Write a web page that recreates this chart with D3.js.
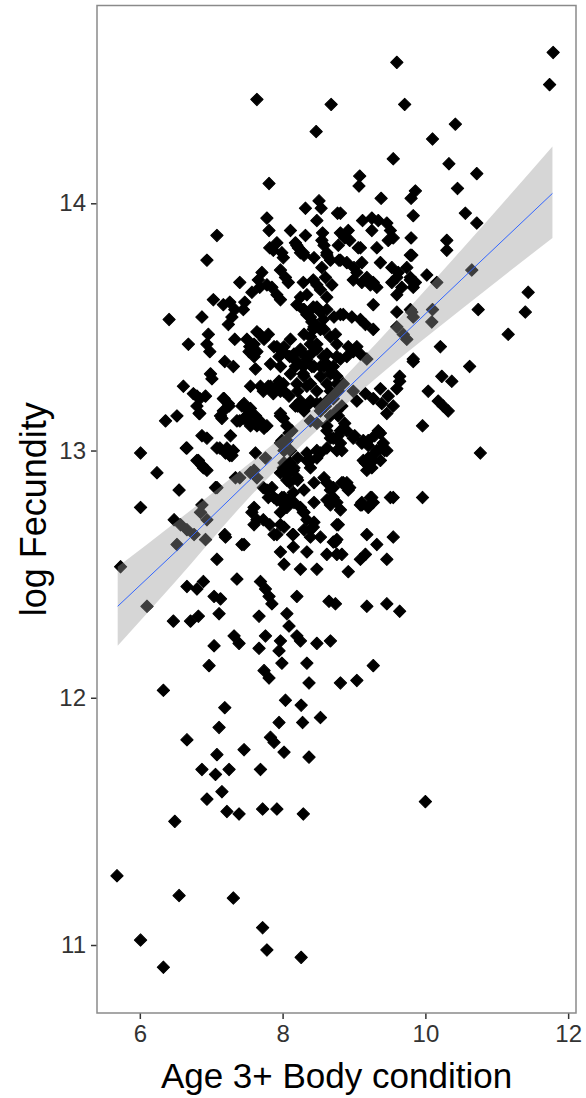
<!DOCTYPE html>
<html>
<head>
<meta charset="utf-8">
<script src="https://cdn.jsdelivr.net/npm/d3@7"></script>
<style>
  body { margin: 0; background: #fff; }
  svg { display: block; }
  text { font-family: "Liberation Sans", Arial, sans-serif; }
</style>
</head>
<body>
<svg id="chart" width="586" height="1098"></svg>
<script>
// body condition (x) vs log fecundity (y)
const fish = [
  [7.64,14.42],[8.68,14.40],[8.47,14.29],[11.79,14.61],[11.74,14.48],[9.60,14.57],[9.71,14.40],[10.42,14.32],
  [10.10,14.26],[9.55,14.18],[10.33,14.16],[10.72,14.12],[10.45,14.06],[10.56,13.96],[10.72,13.92],[9.08,14.11],
  [9.07,14.07],[9.38,14.02],[9.86,14.05],[9.80,14.02],[9.83,13.95],[9.80,13.86],[9.81,13.79],[10.30,13.85],
  [10.30,13.81],[8.81,13.96],[9.12,13.93],[9.25,13.94],[9.34,13.93],[9.46,13.92],[9.51,13.89],[9.55,13.86],
  [9.48,13.85],[8.92,13.89],[8.87,13.86],[8.94,13.85],[9.25,13.89],[9.09,13.82],[9.32,13.82],[8.78,13.83],
  [7.81,14.08],[7.08,13.87],[7.78,13.94],[7.81,13.89],[8.11,13.89],[8.32,13.98],[8.51,14.01],[8.54,13.98],
  [8.48,13.93],[8.77,13.96],[8.32,13.87],[8.56,13.88],[8.81,13.88],[7.92,13.84],[7.87,13.81],[7.99,13.80],
  [8.20,13.83],[8.25,13.80],[8.58,13.83],[8.62,13.80],[6.94,13.77],
  [7.82,13.82],[8.01,13.78],[8.18,13.84],[8.22,13.82],[8.29,13.80],[8.55,13.85],[8.67,13.77],[9.06,13.82],
  [8.81,13.77],[8.90,13.76],[9.00,13.74],[9.11,13.76],[9.04,13.72],[9.18,13.70],[9.27,13.68],[9.37,13.76],[9.79,13.79],
  [9.53,13.74],[9.62,13.72],[9.74,13.74],[9.79,13.70],[9.86,13.68],[9.60,13.70],
  [7.71,13.72],[7.66,13.69],[7.78,13.67],[7.85,13.66],[7.92,13.63],[7.97,13.61],
  [7.97,13.73],[8.04,13.70],[8.08,13.68],[8.55,13.74],[7.40,13.68],[7.57,13.64],[7.68,13.66],
  [8.29,13.68],[8.43,13.69],[8.60,13.70],[8.69,13.67],[8.34,13.63],[8.25,13.62],[8.53,13.65],[8.62,13.62],[8.48,13.67],
  [8.99,13.69],[9.11,13.68],[9.23,13.67],[9.32,13.66],
  [9.53,13.68],[9.67,13.66],[9.79,13.69],[9.83,13.66],[9.60,13.63],
  [7.03,13.61],[7.17,13.59],[7.26,13.60],[7.33,13.57],[7.29,13.54],[7.24,13.51],[7.47,13.60],[7.45,13.57],
  [6.87,13.54],
  [8.20,13.59],[8.29,13.57],[8.39,13.54],[8.46,13.51],[8.43,13.58],[8.53,13.56],[8.57,13.53],
  [8.85,13.55],[8.97,13.54],[9.09,13.53],[9.16,13.51],
  [9.27,13.59],[9.60,13.56],[9.27,13.49],
  [6.68,13.43],[6.96,13.47],[6.94,13.43],[6.98,13.40],
  [7.33,13.45],[7.50,13.45],[7.54,13.42],[7.64,13.40],[7.68,13.47],[7.80,13.47],
  [7.92,13.42],[8.01,13.40],[8.10,13.38],[8.20,13.36],[8.29,13.34],[8.34,13.38],[8.25,13.40],[8.43,13.40],
  [8.57,13.38],[8.62,13.35],[8.53,13.34],[8.71,13.34],[8.81,13.37],[8.90,13.38],[8.99,13.40],[9.09,13.39],
  [9.18,13.37],[8.39,13.46],[8.48,13.43],[8.53,13.49],[8.43,13.49],[8.34,13.55],[8.41,13.52],
  [9.60,13.50],[9.69,13.47],[9.74,13.45],[9.79,13.57],[9.83,13.54],[9.83,13.36],
  [7.19,13.36],[7.31,13.34],
  [6.41,13.53],[6.99,13.31],[7.01,13.29],[7.62,13.33],[6.61,13.26],[6.80,13.22],[6.92,13.22],[7.18,13.21],
  [7.25,13.18],[7.46,13.19],[7.53,13.16],
  [7.55,13.26],[7.69,13.26],[7.83,13.26],[7.95,13.28],[8.02,13.24],[8.09,13.22],
  [6.83,13.15],[6.36,13.12],[6.52,13.14],[7.13,13.14],[7.36,13.12],[7.46,13.13],[7.55,13.10],[7.64,13.10],
  [7.74,13.09],[7.97,13.14],
  [6.87,13.06],[7.27,13.06],[6.01,12.99],[6.65,13.01],[7.08,13.01],[7.20,12.99],[7.29,12.98],[7.62,12.99],
  [6.80,12.96],[6.87,12.94],[6.94,12.92],[6.24,12.91],[7.08,12.85],[6.55,12.84],[6.01,12.77],[6.87,12.78],
  [7.60,12.92],[7.64,12.89],[7.99,13.04],[8.09,13.07],[8.02,12.95],[8.11,12.92],[8.21,12.88],[8.02,13.00],
  [7.78,12.84],[7.88,12.81],[7.99,12.79],
  [8.30,13.79],[8.44,13.78],[8.62,13.79],[8.79,13.77],
  [8.30,13.57],[8.48,13.58],[8.62,13.57],[8.72,13.54],[8.81,13.55],[8.44,13.50],[8.58,13.49],[8.67,13.46],
  [8.76,13.43],[8.30,13.47],[8.39,13.43],[8.25,13.41],[8.48,13.41],[8.62,13.39],[8.76,13.38],[8.34,13.37],
  [8.44,13.34],[8.58,13.34],[8.67,13.31],[8.30,13.30],[8.39,13.27],[8.48,13.24],[8.21,13.24],[8.25,13.20],
  [8.34,13.18],[8.48,13.19],[8.67,13.24],[8.76,13.27],[8.62,13.20],
  [7.80,13.26],[7.92,13.26],[8.01,13.27],[7.97,13.24],[7.87,13.23],[7.73,13.24],
  [8.18,13.34],[8.29,13.31],[8.41,13.34],[8.53,13.30],[8.20,13.27],[8.34,13.26],[8.62,13.27],[8.39,13.20],
  [8.53,13.19],[8.18,13.18],[8.67,13.33],[8.76,13.30],
  [6.75,13.23],[6.84,13.21],[6.80,13.18],[7.17,13.21],[7.24,13.19],[7.17,13.16],
  [7.43,13.18],[7.55,13.17],[7.50,13.14],[7.62,13.14],[7.68,13.12],[7.78,13.10],[7.40,13.12],[7.55,13.11],
  [6.84,13.15],[7.15,13.13],[8.01,13.13],[8.06,13.10],[8.13,13.08],[7.97,13.15],
  [8.53,13.16],[8.60,13.18],[8.71,13.21],[8.78,13.24],[8.85,13.27],
  [8.99,13.24],[9.04,13.20],[9.16,13.23],[9.27,13.21],[9.37,13.25],[9.39,13.19],[9.48,13.22],[9.55,13.18],
  [9.64,13.28],[9.60,13.25],
  [8.62,13.08],[8.71,13.05],[8.81,13.03],[8.90,13.08],[8.99,13.05],[9.13,13.04],[9.20,13.02],[9.32,13.00],
  [9.41,13.03],[9.37,13.07],[9.46,13.00],[9.27,12.96],[9.16,12.95],
  [6.66,13.01],[6.82,12.96],[6.89,12.93],[6.94,13.05],[7.12,13.01],[7.26,12.98],[7.22,13.01],[7.31,13.00],
  [7.76,12.97],[7.97,13.03],[8.06,13.04],
  [8.01,12.93],[8.10,12.95],[8.15,12.92],[8.06,12.90],[8.10,12.87],[8.20,12.89],[7.97,12.91],
  [8.34,12.96],[8.48,12.97],[8.53,12.99],[8.34,12.99],[8.39,12.93],[8.62,12.87],[8.71,12.85],[8.85,12.87],
  [8.94,12.85],[8.90,12.87],
  [9.13,12.96],[9.18,12.92],[9.37,12.96],[9.64,13.30],
  [7.06,12.85],[7.34,12.89],[7.40,12.89],[7.55,12.91],
  [7.73,12.85],[7.85,12.85],[7.80,12.81],[7.92,12.80],
  [7.99,12.81],[8.08,12.80],[8.15,12.83],[8.06,12.77],[7.97,12.75],
  [7.57,12.75],[7.64,12.72],[7.73,12.72],[7.82,12.70],[7.97,12.70],[7.92,12.66],[8.15,12.66],[8.29,12.75],
  [8.34,12.72],[8.43,12.69],[8.39,12.68],[8.53,12.65],[8.76,12.70],[8.62,12.80],[8.71,12.81],[8.81,12.76],
  [7.19,12.66],[7.43,12.62],
  [7.97,12.59],[8.15,12.61],[8.34,12.59],[8.71,12.63],[8.76,12.58],[9.18,12.66],[9.32,12.62],[9.55,12.65],
  [9.23,12.81],[9.51,12.81],[9.11,12.79],[9.96,13.10],[9.96,12.81],
  [10.02,13.71],[10.16,13.68],[10.65,13.73],[11.44,13.64],[11.40,13.56],[11.16,13.47],[10.74,13.57],[9.81,13.56],
  [10.10,13.57],[10.09,13.52],[10.21,13.42],[9.83,13.37],[10.62,13.34],[10.23,13.30],[10.37,13.28],
  [10.04,13.24],[10.18,13.20],[10.25,13.18],[10.32,13.16],[10.77,12.99],[9.46,13.15],
  [8.74,13.47],[8.92,13.42],[9.04,13.42],
  [8.83,13.18],[8.78,13.14],[8.87,13.11],[9.01,13.06],[9.11,13.03],[8.78,13.06],[8.83,13.00],[9.20,13.04],
  [9.29,13.06],[9.34,13.08],[9.39,13.01],[9.29,12.99],[9.43,13.00],[9.20,12.97],[9.25,12.93],
  [8.83,12.87],[8.92,12.84],[9.25,12.81],[9.55,12.81],[9.11,12.78],[9.20,12.77],
  [7.64,13.48],[7.74,13.45],[7.88,13.42],[7.60,13.43],[7.53,13.40],[7.60,13.38],[7.95,13.38],[7.83,13.35],
  [8.11,13.45],[8.02,13.42],[8.16,13.39],[7.97,13.34],[8.11,13.31],
  [8.21,13.18],[8.30,13.16],[8.39,13.12],[8.48,13.11],[8.62,13.10],[8.67,13.14],[8.76,13.16],[8.81,13.08],
  [8.67,13.05],[8.62,13.01],[8.76,13.00],[8.48,13.00],[8.39,12.96],[8.21,12.97],[8.11,13.00],
  [8.16,12.93],[8.06,12.88],[8.02,12.81],[8.16,12.79],[8.30,12.84],[8.44,12.87],[8.58,12.89],[8.67,12.84],
  [8.76,12.79],[8.44,12.79],[8.25,12.77],
  [5.73,12.53],[6.10,12.37],[6.48,12.72],[6.57,12.70],[6.66,12.68],[6.76,12.66],[6.85,12.75],[6.94,12.72],
  [6.92,12.64],[6.52,12.62],
  [7.20,12.65],[7.46,12.62],[7.08,12.56],[7.60,12.77],[7.60,12.70],
  [7.88,12.66],[8.02,12.69],[8.14,12.66],[8.30,12.68],[8.39,12.65],[8.30,12.75],[8.44,12.71],
  [8.67,12.78],[8.74,12.63],[8.62,12.58],[8.02,12.54],[8.25,12.52],[8.48,12.52],
  [6.66,12.45],[6.80,12.44],[6.89,12.47],[7.04,12.41],[7.13,12.40],[7.11,12.34],[7.36,12.48],
  [6.47,12.31],[6.71,12.31],[6.82,12.33],
  [7.69,12.47],[7.76,12.44],[7.81,12.41],[7.85,12.38],[8.20,12.41],[8.65,12.39],[7.67,12.33],[8.06,12.34],[8.09,12.29],
  [7.76,12.25],[7.97,12.23],[8.20,12.25],[8.25,12.23],[8.48,12.22],[8.67,12.23],[7.95,12.19],[7.67,12.20],
  [7.32,12.25],[7.39,12.22],[7.04,12.21],[6.97,12.13],[7.99,12.14],[8.34,12.14],[7.74,12.11],[7.81,12.08],
  [8.37,12.06],[8.81,12.06],
  [6.33,12.03],[8.04,11.99],[8.26,11.97],[8.53,11.92],[7.19,11.96],[7.11,11.88],[7.95,11.90],[8.28,11.90],
  [6.66,11.83],[7.83,11.84],[7.88,11.82],[8.02,11.78],[7.46,11.79],[7.08,11.77],[8.37,11.76],
  [9.09,12.78],[9.27,12.79],[8.78,12.70],[8.76,12.64],[8.83,12.58],[9.09,12.56],[9.16,12.58],[9.46,12.56],
  [8.92,12.51],[9.18,12.37],[9.46,12.38],[9.64,12.35],[8.74,12.38],[9.27,12.13],[9.04,12.07],
  [6.87,11.71],[7.06,11.69],[7.25,11.71],[7.69,11.71],
  [6.94,11.59],[7.15,11.62],[7.22,11.54],[7.39,11.53],[7.72,11.55],[7.92,11.55],[8.29,11.53],
  [6.49,11.50],[5.68,11.28],[6.55,11.20],[7.31,11.19],[6.01,11.02],[6.33,10.91],[7.72,11.07],[7.78,10.98],
  [8.26,10.95],[10.00,11.58]
];

// linear fit and its 95% band
const fitX  = [5.69, 6.5, 7.5, 8.4, 9.3, 10.5, 11.78];
const fitY  = [12.37, 12.59, 12.87, 13.11, 13.36, 13.69, 14.04];
const fitLo = [12.21, 12.47, 12.80, 13.06, 13.29, 13.57, 13.86];
const fitHi = [12.53, 12.71, 12.94, 13.16, 13.43, 13.81, 14.23];

const xTicks = [6, 8, 10, 12];
const yTicks = [11, 12, 13, 14];

let margins = { 'top': 5.5, 'right': 10, 'bottom': 85, 'left': 97 };
let width = 586, height = 1098;

let svg = d3.select('#chart');

let x = d3.scaleLinear()
    .domain([5.40, 12.11])
    .range([margins.left, width - margins.right]);

let y = d3.scaleLinear()
    .domain([10.725, 14.80])
    .range([height - margins.bottom, margins.top]);

// points (filled diamonds, slightly rounded)
let diamond = d3.symbol(d3.symbolSquare, 76);
svg.append('g')
    .selectAll('path')
    .data(fish)
    .enter()
    .append('path')
    .attr('d', diamond)
    .attr('transform', d => `translate(${x(d[0])},${y(d[1])}) rotate(45)`)
    .attr('fill', '#000')
    .attr('stroke', '#000')
    .attr('stroke-width', 1)
    .attr('stroke-linejoin', 'round');

// confidence band on top of the points, like geom_smooth
let band = fitX.map((v, i) => ({ x: v, lo: fitLo[i], hi: fitHi[i], fit: fitY[i] }));

svg.append('path')
    .datum(band)
    .attr('d', d3.area()
        .x(d => x(d.x))
        .y0(d => y(d.lo))
        .y1(d => y(d.hi))
        .curve(d3.curveMonotoneX))
    .attr('fill', '#999999')
    .attr('fill-opacity', 0.4);

svg.append('path')
    .datum(band)
    .attr('d', d3.line()
        .x(d => x(d.x))
        .y(d => y(d.fit)))
    .attr('fill', 'none')
    .attr('stroke', '#3366FF')
    .attr('stroke-width', 1);

// axes
let xAxis = svg.append('g')
    .attr('transform', `translate(0,${height - margins.bottom})`)
    .call(d3.axisBottom(x).tickValues(xTicks).tickSize(6).tickPadding(6).tickFormat(d3.format('d')));

let yAxis = svg.append('g')
    .attr('transform', `translate(${margins.left},0)`)
    .call(d3.axisLeft(y).tickValues(yTicks).tickSize(6).tickPadding(5).tickFormat(d3.format('d')));

[xAxis, yAxis].forEach(a => {
    a.select('.domain').remove();
    a.selectAll('line').attr('stroke', '#333').attr('stroke-width', 1.5);
    a.selectAll('text')
        .attr('fill', '#333')
        .style('font-size', '24px')
        .style('font-family', '"Liberation Sans", Arial, sans-serif');
});

// panel border
svg.append('rect')
    .attr('x', margins.left)
    .attr('y', margins.top)
    .attr('width', width - margins.right - margins.left)
    .attr('height', height - margins.bottom - margins.top)
    .attr('fill', 'none')
    .attr('stroke', '#8a8a8a')
    .attr('stroke-width', 1.5);

// titles
svg.append('text')
    .attr('x', (margins.left + width - margins.right) / 2)
    .attr('y', 1088)
    .attr('text-anchor', 'middle')
    .style('font-size', '35px')
    .text('Age 3+ Body condition');

svg.append('text')
    .attr('transform', `translate(46,${(margins.top + height - margins.bottom) / 2}) rotate(-90)`)
    .attr('text-anchor', 'middle')
    .style('font-size', '36px')
    .text('log Fecundity');
</script>
</body>
</html>
